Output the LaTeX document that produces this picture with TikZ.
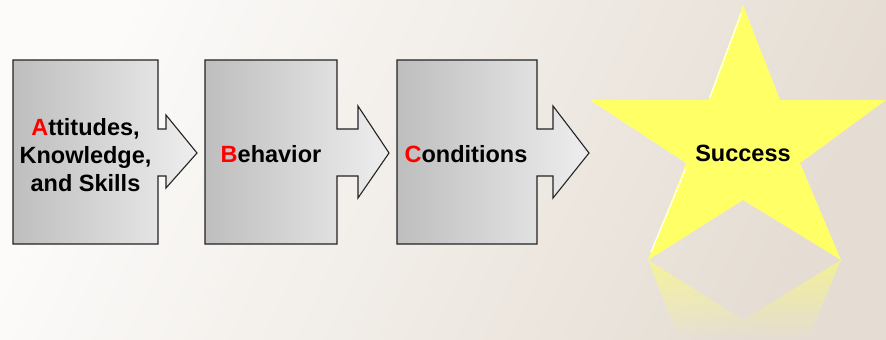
\documentclass[tikz,border=0pt]{standalone}
\usepackage{fontspec}
\setmainfont{Liberation Sans}
\usetikzlibrary{fadings}
\definecolor{bgA}{RGB}{252,251,250}
\definecolor{bgB}{RGB}{229,221,211}
\definecolor{boxL}{RGB}{190,190,190}
\definecolor{boxR}{RGB}{238,238,238}
\definecolor{edge}{RGB}{35,35,35}
\definecolor{staryellow}{RGB}{255,255,102}
\definecolor{redletter}{RGB}{255,0,0}
\tikzfading[name=reflfade, top color=transparent!45, bottom color=transparent!100]
\tikzset{
  stepshape/.style={draw=edge, line width=1.1bp, left color=boxL, right color=boxR},
  label/.style={font=\fontsize{23.5bp}{28bp}\selectfont\bfseries, align=center, text=black, inner sep=0pt},
}
\begin{document}
\begin{tikzpicture}[x=1bp, y=-1bp]
\useasboundingbox (0,0) rectangle (886,339);
% background
\shade[shading=axis, left color=bgA, right color=bgB, shading angle=65] (0,0) rectangle (886,339);
% step 1
\path[stepshape] (13,60) -- (158,60) -- (158,129) -- (166,129) -- (166,115) -- (197,153)
  -- (166,188) -- (166,176) -- (158,176) -- (158,244) -- (13,244) -- cycle;
% step 2
\path[stepshape] (205,60) -- (337,60) -- (337,129) -- (358,129) -- (358,106) -- (389,153)
  -- (358,198) -- (358,176) -- (337,176) -- (337,244) -- (205,244) -- cycle;
% step 3
\path[stepshape] (397,60) -- (537,60) -- (537,129) -- (553,129) -- (553,106) -- (589,153)
  -- (553,198) -- (553,176) -- (537,176) -- (537,244) -- (397,244) -- cycle;
% star reflection
\begin{scope}
  \clip (743,515) -- (780,420) -- (886,420) -- (800,357) -- (841,260) -- (743,320)
        -- (648,260) -- (686,357) -- (590,420) -- (708,420) -- cycle;
  \fill[staryellow, path fading=reflfade] (590,260) rectangle (886,339);
\end{scope}
% star
\fill[staryellow] (743,5) -- (780,100) -- (886,100) -- (800,163) -- (841,260) -- (743,200)
  -- (648,260) -- (686,163) -- (590,100) -- (708,100) -- cycle;
\draw[white, line width=1.2bp, line cap=round] (710,97) -- (741,14);
\draw[white, line width=1.2bp, line cap=round] (651,252) -- (686,168);
% labels
\node[label] (a) at (85.5,155) {\textcolor{redletter}{A}ttitudes,\\Knowledge,\\and Skills};
\node[label] (b) at (271,154) {\textcolor{redletter}{B}ehavior};
\node[label] (c) at (466,154) {\textcolor{redletter}{C}onditions};
\node[label] (s) at (743,153) {Success};
\end{tikzpicture}
\end{document}
